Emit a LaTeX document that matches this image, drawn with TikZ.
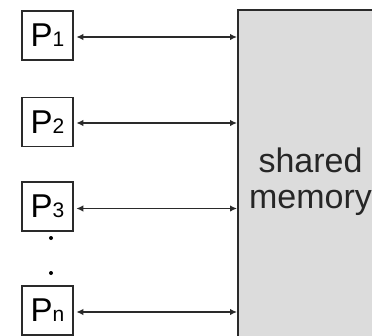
\documentclass[tikz,border=0pt]{standalone}
\usepackage{fontspec}
\setmainfont{Liberation Sans}
\usetikzlibrary{arrows.meta}
\definecolor{memfill}{HTML}{DCDCDC}
\definecolor{edge}{HTML}{2A2A2A}
\tikzset{
  proc/.style={draw=edge, line width=1.6pt, fill=white, minimum width=51pt, minimum height=49pt, inner sep=0pt},
  link/.style={line width=1.6pt, draw=edge, {Latex[length=7pt,width=6.5pt]}-{Latex[length=7pt,width=6.5pt]}, shorten <=2.5pt},
  dotmark/.style={circle, fill=black, inner sep=0pt, minimum size=4pt}
}
\newcommand{\plabel}[1]{{\fontsize{33}{33}\selectfont P\fontsize{21}{21}\selectfont #1}}
\begin{document}
\begin{tikzpicture}[x=1pt, y=-1pt]
  \useasboundingbox (0,0) rectangle (372,335);
  \clip (0,0) rectangle (372,335);
  % shared memory block, running off the right and bottom edges
  \node[draw=edge, line width=1.8pt, fill=memfill, minimum width=200pt, minimum height=360pt, anchor=north west, inner sep=0pt] (mem) at (237,9) {};
  \node[align=center, font=\fontsize{34}{36}\selectfont, text=black!85] (memtext) at (310.5,182) {shared\\memory};
  % processors
  \node[proc] (p1) at (47.5,35.5) {\plabel{1}};
  \node[proc] (p2) at (47.5,122) {\plabel{2}};
  \node[proc] (p3) at (47.5,206.5) {\plabel{3}};
  \node[proc] (pn) at (47.5,310.5) {\plabel{n}};
  % ellipsis between P3 and Pn
  \node[dotmark] (d1) at (51,238) {};
  \node[dotmark] (d2) at (51,273) {};
  % links to memory
  \draw[link] ([yshift=-1.5pt]p1.east) -- ([yshift=-1.5pt]p1.east -| mem.west);
  \draw[link] ([yshift=-1pt]p2.east) -- ([yshift=-1pt]p2.east -| mem.west);
  \draw[link] ([yshift=-2pt]p3.east) -- ([yshift=-2pt]p3.east -| mem.west);
  \draw[link] ([yshift=-1.5pt]pn.east) -- ([yshift=-1.5pt]pn.east -| mem.west);
\end{tikzpicture}
\end{document}
